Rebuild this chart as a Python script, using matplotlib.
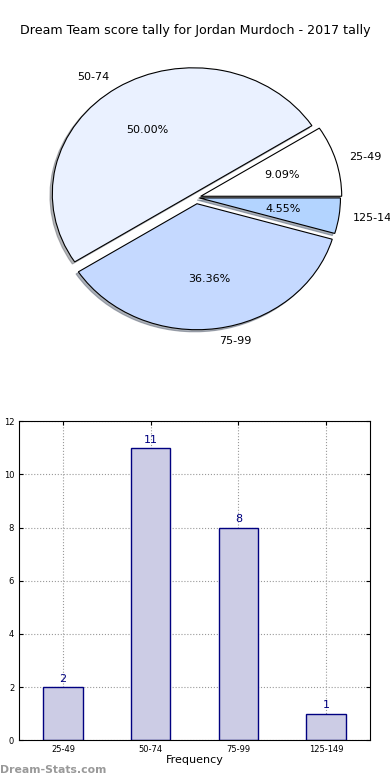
import matplotlib
matplotlib.use("Agg")
import matplotlib.pyplot as plt

# score bins and how many rounds fell in each
bins = ["25-49", "50-74", "75-99", "125-149"]
counts = [2, 11, 8, 1]
pie_colors = ["#FFFFFF", "#EAF1FF", "#C5D9FF", "#B3D4FF"]
explode = [0.035, 0.035, 0.05, 0.025]

title = "Dream Team score tally for Jordan Murdoch - 2017 tally"

fig = plt.figure(figsize=(3.9, 7.8), dpi=100)

# pie on top (not equal aspect, like the old matplotlib output)
ax1 = fig.add_axes([0.0506, 0.5449, 0.9038, 0.4038])
wedges, texts, autotexts = ax1.pie(counts, labels=bins, colors=pie_colors, explode=explode,
                                   autopct="%1.2f%%", startangle=0,
                                   shadow={"ox": -0.012, "oy": -0.012, "shade": 0.55},
                                   wedgeprops={"edgecolor": "black", "linewidth": 0.8},
                                   textprops={"fontsize": 8})
ax1.set_aspect("auto")
ax1.set_xlim(-1.25, 1.25)
ax1.set_ylim(-1.25, 1.25)
fig.text(0.5, 0.961, title, ha="center", va="center", fontsize=9.1)

# bar chart below
ax2 = fig.add_axes([0.049, 0.051, 0.9, 0.409])
x = range(len(bins))
bars = ax2.bar(x, counts, width=0.45, color="#CCCCE5", edgecolor="navy", linewidth=1, zorder=2)
for xi, c in zip(x, counts):
    ax2.text(xi, c + 0.12, str(c), ha="center", va="bottom", color="navy", fontsize=8)
ax2.set_xlim(-0.5, 3.5)
ax2.set_ylim(0, 12)
ax2.set_xticks(list(x))
ax2.set_xticklabels(bins)
ax2.set_yticks(range(0, 13, 2))
ax2.tick_params(direction="in", labelsize=6, top=True, right=True, length=3)
ax2.grid(True, linestyle=":", color="#999999", linewidth=0.8, zorder=0)
ax2.set_axisbelow(True)
ax2.set_xlabel("Frequency", fontsize=8, labelpad=1)
fig.text(-0.012, 0.27, "Score Interval Tally", rotation=90, ha="center", va="center", fontsize=8)

fig.text(0.0, 0.013, "Dream-Stats.com", fontsize=7.8, color="#999999", fontweight="bold",
         ha="left", va="center")

fig.savefig("out.png", dpi=100)
